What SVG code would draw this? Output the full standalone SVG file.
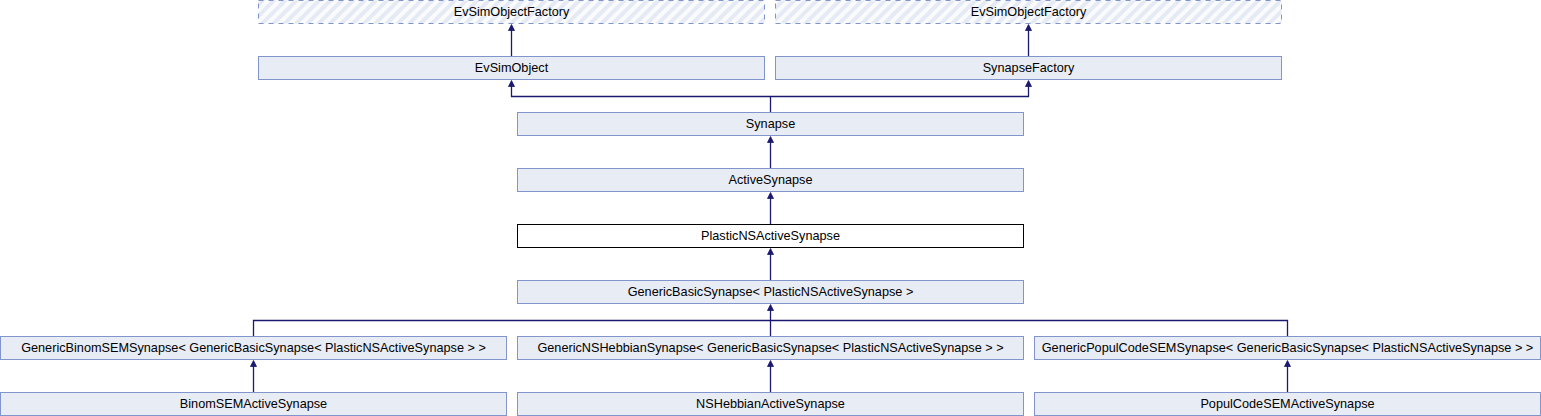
<svg xmlns="http://www.w3.org/2000/svg" width="1541" height="416" viewBox="0 0 1541 416">
<defs>
<pattern id="hatch" patternUnits="userSpaceOnUse" width="8" height="8" patternTransform="rotate(45)">
<rect width="8" height="8" fill="#fafbfd"/>
<rect width="4" height="8" fill="#e6eaf4"/>
</pattern>
</defs>
<style>
.n rect{fill:#e8ecf5;stroke:#8194cc;stroke-width:1}
.n.cur rect{fill:#ffffff;stroke:#000000}
.n.ext rect{fill:url(#hatch);stroke:#8194cc;stroke-dasharray:5,5}
.n text{font-family:"Liberation Sans",Arial,sans-serif;font-size:12.7px;fill:#000;text-anchor:middle}
.e path{fill:none;stroke:#191970;stroke-width:1.3}
.e polygon{fill:#191970;stroke:#191970;stroke-width:0.8}
</style>
<rect width="1541" height="416" fill="#ffffff"/>
<g id="n_evsimobjectfactory1" class="n ext"><rect x="258.5" y="0.5" width="506" height="23"/><text x="511.5" y="16">EvSimObjectFactory</text></g>
<g id="n_evsimobjectfactory2" class="n ext"><rect x="775.5" y="0.5" width="506" height="23"/><text x="1028.5" y="16">EvSimObjectFactory</text></g>
<g id="n_evsimobject" class="n"><rect x="258.5" y="56.5" width="506" height="23"/><text x="511.5" y="72">EvSimObject</text></g>
<g id="n_synapsefactory" class="n"><rect x="775.5" y="56.5" width="506" height="23"/><text x="1028.5" y="72">SynapseFactory</text></g>
<g id="n_synapse" class="n"><rect x="517.5" y="112.5" width="506" height="23"/><text x="770.5" y="128">Synapse</text></g>
<g id="n_activesynapse" class="n"><rect x="517.5" y="168.5" width="506" height="23"/><text x="770.5" y="184">ActiveSynapse</text></g>
<g id="n_plasticnsactivesynapse" class="n cur"><rect x="517.5" y="224.5" width="506" height="23"/><text x="770.5" y="240">PlasticNSActiveSynapse</text></g>
<g id="n_genericbasicsynapse" class="n"><rect x="517.5" y="280.5" width="506" height="23"/><text x="770.5" y="296">GenericBasicSynapse&lt; PlasticNSActiveSynapse &gt;</text></g>
<g id="n_genericbinomsem" class="n"><rect x="0.5" y="336.5" width="506" height="23"/><text x="253.5" y="352">GenericBinomSEMSynapse&lt; GenericBasicSynapse&lt; PlasticNSActiveSynapse &gt; &gt;</text></g>
<g id="n_genericnshebbian" class="n"><rect x="517.5" y="336.5" width="506" height="23"/><text x="770.5" y="352">GenericNSHebbianSynapse&lt; GenericBasicSynapse&lt; PlasticNSActiveSynapse &gt; &gt;</text></g>
<g id="n_genericpopulcode" class="n"><rect x="1034.5" y="336.5" width="506" height="23"/><text x="1287.5" y="352">GenericPopulCodeSEMSynapse&lt; GenericBasicSynapse&lt; PlasticNSActiveSynapse &gt; &gt;</text></g>
<g id="n_binomsem" class="n"><rect x="0.5" y="392.5" width="506" height="23"/><text x="253.5" y="408">BinomSEMActiveSynapse</text></g>
<g id="n_nshebbian" class="n"><rect x="517.5" y="392.5" width="506" height="23"/><text x="770.5" y="408">NSHebbianActiveSynapse</text></g>
<g id="n_populcode" class="n"><rect x="1034.5" y="392.5" width="506" height="23"/><text x="1287.5" y="408">PopulCodeSEMActiveSynapse</text></g>
<g id="connectors" class="e">
<path d="M511.5,30 V56"/><polygon points="511.5,24.5 514.5,30.5 508.5,30.5"/>
<path d="M1028.5,30 V56"/><polygon points="1028.5,24.5 1031.5,30.5 1025.5,30.5"/>
<path d="M511.5,86 V96.5 H1028.5 V86"/>
<polygon points="511.5,80.5 514.5,86.5 508.5,86.5"/>
<polygon points="1028.5,80.5 1031.5,86.5 1025.5,86.5"/>
<path d="M770.5,96.5 V112"/>
<path d="M770.5,142 V168"/><polygon points="770.5,136.5 773.5,142.5 767.5,142.5"/>
<path d="M770.5,198 V224"/><polygon points="770.5,192.5 773.5,198.5 767.5,198.5"/>
<path d="M770.5,254 V280"/><polygon points="770.5,248.5 773.5,254.5 767.5,254.5"/>
<path d="M770.5,310 V336"/><polygon points="770.5,304.5 773.5,310.5 767.5,310.5"/>
<path d="M253.5,336 V320.5 H1287.5 V336"/>
<path d="M253.5,366 V392"/><polygon points="253.5,360.5 256.5,366.5 250.5,366.5"/>
<path d="M770.5,366 V392"/><polygon points="770.5,360.5 773.5,366.5 767.5,366.5"/>
<path d="M1287.5,366 V392"/><polygon points="1287.5,360.5 1290.5,366.5 1284.5,366.5"/>
</g>
</svg>
